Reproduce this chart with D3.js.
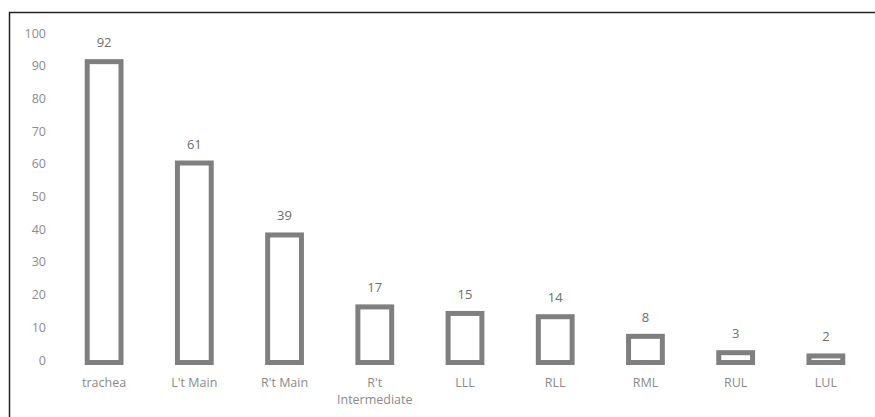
<!DOCTYPE html>
<html>
<head>
<meta charset="utf-8">
<script src="https://cdn.jsdelivr.net/npm/d3@7"></script>
<style>
  body { margin: 0; background: #fff; }
  text { font-family: "Open Sans", "Liberation Sans", sans-serif; fill: #8a8a8a; }
</style>
</head>
<body>
<div id="chart"></div>
<script>
// bronchial sites and counts
var sites = ["trachea", "L't Main", "R't Main", "R't Intermediate", "LLL", "RLL", "RML", "RUL", "LUL"];
var counts = [92, 61, 39, 17, 15, 14, 8, 3, 2];
var yTicks = [0, 10, 20, 30, 40, 50, 60, 70, 80, 90, 100];

var width = 875, height = 417;
var margin = { top: 33, right: 4, bottom: 57, left: 59 };

var svg = d3.select("#chart").append("svg")
  .attr("width", width).attr("height", height);

// outer frame (right and bottom edges fall outside the picture)
svg.append("rect")
  .attr("x", 9.5).attr("y", 12.5)
  .attr("width", 880).attr("height", 420)
  .style("fill", "none").style("stroke", "#222").style("stroke-width", 1.5);

var x = d3.scaleBand().domain(sites)
  .range([margin.left, width - margin.right]).paddingInner(0.57).paddingOuter(0.285);
var y = d3.scaleLinear().domain([0, 100]).range([height - margin.bottom, margin.top]);

// y axis labels only
var yAxis = svg.append("g").attr("transform", "translate(" + 46 + ",0)")
  .call(d3.axisLeft(y).tickValues(yTicks).tickSize(0).tickPadding(0));
yAxis.select(".domain").remove();
yAxis.selectAll("text").style("font-size", "12.5px").style("fill", "#8c8c8c");

// hollow bars
var sw = 5;
svg.selectAll(".bar").data(counts).enter().append("rect")
  .attr("class", "bar")
  .attr("x", function(d, i){ return x(sites[i]) + sw / 2; })
  .attr("y", function(d){ return y(d) + sw / 2; })
  .attr("width", x.bandwidth() - sw)
  .attr("height", function(d){ return Math.max(0, y(0) - y(d)); })
  .style("fill", "none").style("stroke", "#7f7f7f").style("stroke-width", sw);

// value labels
svg.selectAll(".val").data(counts).enter().append("text")
  .attr("class", "val")
  .attr("x", function(d, i){ return x(sites[i]) + x.bandwidth() / 2; })
  .attr("y", function(d){ return y(d) - 12; })
  .attr("text-anchor", "middle")
  .style("font-size", "13px")
  .style("fill", "#6e6e6e")
  .text(function(d){ return d; });

// category labels, wrapping the long one
var cats = svg.selectAll(".cat").data(sites).enter().append("text")
  .attr("class", "cat")
  .attr("text-anchor", "middle")
  .attr("x", function(d){ return x(d) + x.bandwidth() / 2; })
  .attr("y", height - margin.bottom + 27)
  .style("font-size", "12.5px");
cats.each(function(d){
  var words = d.indexOf("Intermediate") >= 0 ? ["R't", "Intermediate"] : [d];
  var t = d3.select(this);
  words.forEach(function(w, k){
    t.append("tspan").attr("x", t.attr("x")).attr("dy", k ? 17 : 0).text(w);
  });
});
</script>
</body>
</html>
